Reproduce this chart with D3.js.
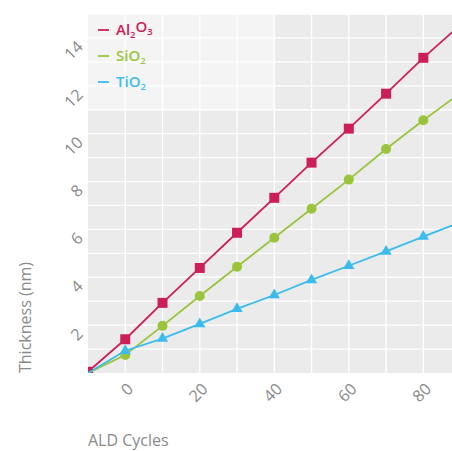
<!DOCTYPE html>
<html>
<head>
<meta charset="utf-8">
<script src="https://cdn.jsdelivr.net/npm/d3@7"></script>
<style>
  body { margin: 0; background: #fff; }
  text { font-family: "Open Sans", Lato, sans-serif; }
</style>
</head>
<body>
<div id="chart"></div>
<script>
// data
var cycles = [-10, 0, 10, 20, 30, 40, 50, 60, 70, 80, 90];
var al2o3 = [0.05, 1.41, 2.93, 4.39, 5.86, 7.32, 8.79, 10.21, 11.67, 13.17, 14.55];
var sio2 = [0.0, 0.75, 1.97, 3.22, 4.44, 5.65, 6.86, 8.08, 9.36, 10.56, 11.7];
var tio2 = [0.0, 0.93, 1.44, 2.05, 2.68, 3.26, 3.89, 4.48, 5.08, 5.70, 6.3];
var xTicks = [0, 20, 40, 60, 80];
var yTicks = [2, 4, 6, 8, 10, 12, 14];

var series = [
  {name: "Al", sub1: "2", mid: "O", sub2: "3", values: al2o3, color: "#cc1f5a", marker: "square"},
  {name: "SiO", sub1: "2", values: sio2, color: "#9ac43c", marker: "circle"},
  {name: "TiO", sub1: "2", values: tio2, color: "#3bbcec", marker: "triangle"}
];

var svgWidth = 452, svgHeight = 451;
var margin = {top: 14, right: 0, bottom: 78, left: 88};
var width = svgWidth - margin.left - margin.right;
var height = svgHeight - margin.top - margin.bottom;

var svg = d3.select("#chart").append("svg")
  .attr("width", svgWidth)
  .attr("height", svgHeight);

var g = svg.append("g").attr("transform", `translate(${margin.left},${margin.top})`);

var x = d3.scaleLinear().domain([-10, 87.7]).range([0, width]);
var y = d3.scaleLinear().domain([0, 15]).range([height, 0]);

svg.append("defs").append("clipPath").attr("id", "clip")
  .append("rect").attr("width", width).attr("height", height);

// plot background
g.append("rect").attr("width", width).attr("height", height).attr("fill", "#ebebeb");

// lighter legend panel
g.append("rect")
  .attr("x", x(-10)).attr("y", y(15))
  .attr("width", x(40) - x(-10)).attr("height", y(11) - y(15))
  .attr("fill", "#f4f4f4");

// grid
g.append("g").selectAll("line").data(d3.range(0, 90, 10)).join("line")
  .attr("x1", d => x(d)).attr("x2", d => x(d))
  .attr("y1", 0).attr("y2", height)
  .attr("stroke", "#fff").attr("stroke-width", 1.3);
g.append("g").selectAll("line").data(d3.range(1, 16)).join("line")
  .attr("x1", 0).attr("x2", width)
  .attr("y1", d => y(d)).attr("y2", d => y(d))
  .attr("stroke", "#fff").attr("stroke-width", 1.3);

// tick labels
g.append("g").selectAll("text").data(xTicks).join("text")
  .attr("transform", d => `translate(${x(d) + 5},${height + 13}) rotate(-45)`)
  .attr("text-anchor", "end")
  .attr("dy", "0.35em")
  .attr("fill", "#8a8a8a")
  .attr("font-size", 16)
  .text(d => d);
g.append("g").selectAll("text").data(yTicks).join("text")
  .attr("transform", d => `translate(-8,${y(d) + 6}) rotate(-45)`)
  .attr("text-anchor", "end")
  .attr("dy", "0.35em")
  .attr("fill", "#8a8a8a")
  .attr("font-size", 16)
  .text(d => d);

// axis titles
svg.append("text")
  .attr("transform", `translate(31,${margin.top + height}) rotate(-90)`)
  .attr("fill", "#8a8a8a").attr("font-size", 16)
  .text("Thickness (nm)");
svg.append("text")
  .attr("x", margin.left).attr("y", 446)
  .attr("fill", "#8a8a8a").attr("font-size", 16)
  .text("ALD Cycles");

// lines and markers
var plot = g.append("g").attr("clip-path", "url(#clip)");
var line = d3.line().x((d, i) => x(cycles[i])).y(d => y(d));

series.forEach(function(s) {
  plot.append("path")
    .attr("d", line(s.values))
    .attr("fill", "none")
    .attr("stroke", s.color)
    .attr("stroke-width", 1.8);

  var pts = s.values.map((v, i) => [x(cycles[i]), y(v)]);
  if (s.marker === "square") {
    plot.selectAll(null).data(pts).join("rect")
      .attr("x", d => d[0] - 5).attr("y", d => d[1] - 5)
      .attr("width", 10).attr("height", 10)
      .attr("fill", s.color);
  } else if (s.marker === "circle") {
    plot.selectAll(null).data(pts.slice(1)).join("circle")
      .attr("cx", d => d[0]).attr("cy", d => d[1]).attr("r", 5)
      .attr("fill", s.color);
  } else {
    var tri = d3.symbol().type(d3.symbolTriangle).size(55);
    plot.selectAll(null).data(pts.slice(1)).join("path")
      .attr("transform", d => `translate(${d[0]},${d[1]})`)
      .attr("d", tri)
      .attr("fill", s.color);
  }
});

// legend
var legend = g.append("g");
series.forEach(function(s, i) {
  var ly = 16 + i * 26;
  legend.append("line")
    .attr("x1", 10).attr("x2", 21).attr("y1", ly).attr("y2", ly)
    .attr("stroke", s.color).attr("stroke-width", 1.8);
  var t = legend.append("text")
    .attr("x", 28).attr("y", ly).attr("dy", "0.35em")
    .attr("fill", s.color).attr("font-size", 15).attr("font-weight", 600);
  t.append("tspan").text(s.name);
  t.append("tspan").attr("font-size", 9.5).attr("dy", "0.25em").text(s.sub1);
  if (s.mid) {
    t.append("tspan").attr("dy", "-0.4em").text(s.mid);
    t.append("tspan").attr("font-size", 9.5).attr("dy", "0.4em").text(s.sub2);
  }
});
</script>
</body>
</html>
